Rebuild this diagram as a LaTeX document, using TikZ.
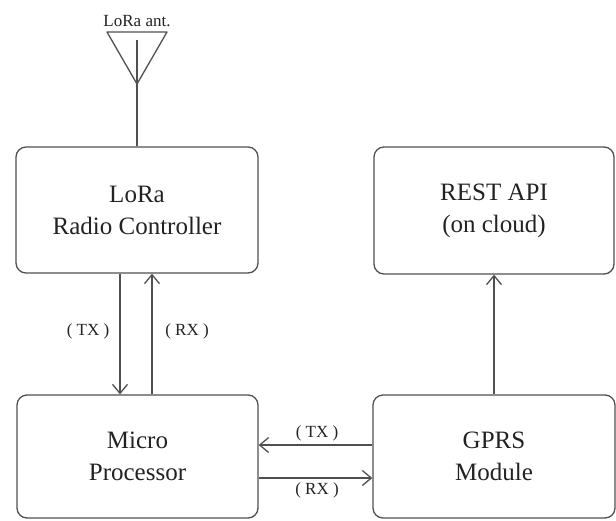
\documentclass[tikz,border=0pt]{standalone}
\usepackage{fontspec}
\setmainfont{Liberation Serif}
\usepackage{tikz}
\usetikzlibrary{arrows.meta}
\usepackage{xcolor}
\definecolor{linegray}{HTML}{505050}
\definecolor{textgray}{HTML}{222222}

\tikzset{
	block/.style={draw=linegray,line width=1.3pt,rounded corners=10pt,align=center,
		text=textgray,font=\fontsize{25}{32}\selectfont,inner sep=0pt},
	link/.style={draw=linegray,line width=1.3pt,-{Straight Barb[length=9pt,width=15pt,line width=1.3pt]}},
	tag/.style={text=textgray,font=\fontsize{17}{19}\selectfont,inner sep=0pt}
}

\begin{document}
\begin{tikzpicture}[x=1pt,y=-1pt]
			\useasboundingbox (0,0) rectangle (616,520);
			% boxes
			\node[block,minimum width=242pt,minimum height=126pt] (lora) at (137,210) {LoRa\\Radio Controller};
			\node[block,minimum width=241pt,minimum height=123pt] (micro) at (137.5,456.5) {Micro\\Processor};
			\node[block,minimum width=240pt,minimum height=127pt] (rest) at (494,210.5) {REST API\\(on cloud)};
			\node[block,minimum width=242pt,minimum height=123pt] (gprs) at (494,456.5) {GPRS\\Module};
			% antenna
			\coordinate (a1) at (107,32);
			\coordinate (a2) at (167,32);
			\coordinate (a3) at (137,84);
			\coordinate (ant) at (137,40);
			\node[tag] (antlabel) at (137,21) {LoRa ant.};
			\draw[linegray,line width=1.3pt,line join=round] (a1) -- (a2) -- (a3) -- cycle;
			\draw[linegray,line width=1.3pt] (ant) -- (lora.north);
			% lora <-> micro
			\coordinate (tx) at (120,0);
			\coordinate (rx) at (152,0);
			\draw[link] (lora.south -| tx) -- (micro.north -| tx);
			\draw[link] (micro.north -| rx) -- (lora.south -| rx);
			\node[tag] (txa) at (88,331) {( TX )};
			\node[tag] (rxa) at (187,331) {( RX )};
			% micro <-> gprs
			\coordinate (tx2) at (0,445);
			\coordinate (rx2) at (0,478);
			\draw[link] (gprs.west |- tx2) -- (micro.east |- tx2);
			\draw[link] (micro.east |- rx2) -- (gprs.west |- rx2);
			\node[tag] (txb) at (317,433) {( TX )};
			\node[tag] (rxb) at (317,490) {( RX )};
			% gprs -> rest
			\draw[link] (gprs.north) -- (rest.south);
		\end{tikzpicture}
\end{document}
